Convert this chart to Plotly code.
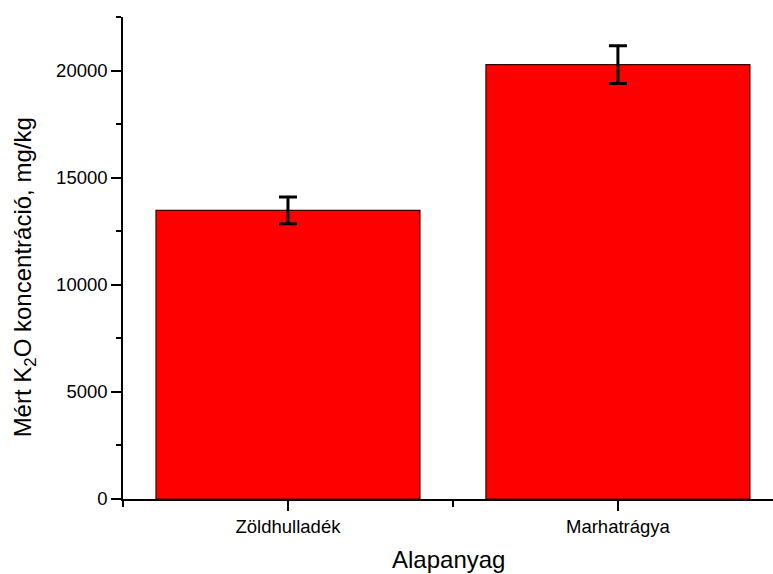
import plotly.graph_objects as go

categories = ["Zöldhulladék", "Marhatrágya"]
positions = [1, 2]
values = [13470, 20280]
errors = [625, 880]
y_ticks = [0, 5000, 10000, 15000, 20000]
y_tick_labels = ["0", "5000", "10000", "15000", "20000"]

FONT = "Arial, 'Liberation Sans', sans-serif"

fig = go.Figure()
fig.add_trace(go.Bar(
    x=positions, y=values, width=0.8,
    marker=dict(color="#ff0000", line=dict(color="#3a0000", width=1.2)),
    error_y=dict(type="data", array=errors, visible=True, color="black",
                 thickness=3, width=9),
    showlegend=False,
))

fig.update_layout(
    width=773, height=574,
    margin=dict(l=123, r=0, t=17, b=75),
    paper_bgcolor="white", plot_bgcolor="white",
    font=dict(family=FONT, color="black", size=19),
    xaxis=dict(
        range=[0.5, 2.47], tickmode="array", tickvals=positions, ticktext=categories,
        showline=True, linecolor="black", linewidth=1.5, showgrid=False, zeroline=False,
        ticks="outside", ticklen=10, tickwidth=1.5, tickcolor="black",
        tickfont=dict(size=18.5),
        minor=dict(tickmode="array", tickvals=[0.5, 1.5, 2.5], ticks="outside",
                   ticklen=6, tickwidth=1.5, tickcolor="black", showgrid=False),
    ),
    yaxis=dict(
        range=[0, 22500], tickmode="array", tickvals=y_ticks, ticktext=y_tick_labels,
        showline=True, linecolor="black", linewidth=1.5, showgrid=False, zeroline=False,
        ticks="outside", ticklen=10, tickwidth=1.5, tickcolor="black",
        tickfont=dict(size=18.5),
        minor=dict(tickmode="array", tickvals=[2500, 7500, 12500, 17500, 22500],
                   ticks="outside", ticklen=5, tickwidth=1.5, tickcolor="black",
                   showgrid=False),
    ),
    annotations=[
        dict(text="Mért K<sub>2</sub>O koncentráció, mg/kg", textangle=-90,
             xref="paper", yref="paper", x=-0.151, y=0.4595, xanchor="center",
             yanchor="middle", showarrow=False, font=dict(size=24)),
        dict(text="Alapanyag", xref="paper", yref="paper", x=0.5, y=-0.126,
             xanchor="center", yanchor="middle", showarrow=False, font=dict(size=24)),
    ],
)

fig.write_html("out.html")
